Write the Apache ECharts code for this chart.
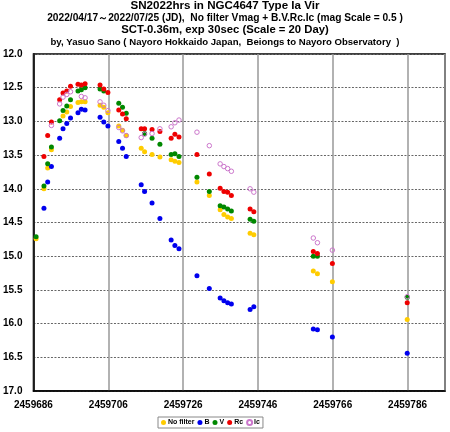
<!DOCTYPE html>
<html>
<head>
<meta charset="utf-8">
<script src="https://cdn.jsdelivr.net/npm/echarts@6/dist/echarts.min.js"></script>
<style>
html,body{margin:0;padding:0;background:#fff;}
#chart{width:450px;height:432px;}
</style>
</head>
<body>
<div id="chart"></div>
<script>
// ---- data (JD, magnitude) ----
const BASE_JD = 2459686;
const xTickStep = 20;

const noFilterJD = [2459686.7,2459688.8,2459689.8,2459690.8,2459693.9,2459694.9,2459695.9,2459697.9,2459698.8,2459699.8,2459703.8,2459704.8,2459705.9,2459708.8,2459709.8,2459710.8,2459714.8,2459715.7,2459717.7,2459719.8,2459722.8,2459723.8,2459724.9,2459729.7,2459733.0,2459735.9,2459736.9,2459737.9,2459738.9,2459743.9,2459744.9,2459760.8,2459761.9,2459765.9,2459785.9];
const noFilterMag = [14.74,14.00,13.69,13.42,12.92,12.86,12.78,12.72,12.71,12.71,12.76,12.79,12.87,13.07,13.13,13.21,13.40,13.45,13.49,13.53,13.57,13.59,13.61,13.90,14.10,14.31,14.38,14.42,14.44,14.66,14.68,15.22,15.26,15.38,15.94];

const bJD = [2459688.8,2459689.8,2459690.8,2459693.0,2459693.9,2459694.9,2459695.9,2459697.9,2459698.8,2459699.8,2459703.8,2459704.8,2459705.9,2459708.8,2459709.8,2459710.8,2459714.8,2459715.7,2459717.7,2459719.8,2459722.8,2459723.8,2459724.9,2459729.7,2459733.0,2459735.9,2459736.9,2459737.9,2459738.9,2459743.9,2459744.9,2459760.8,2459761.9,2459765.9,2459785.9];
const bMag = [14.29,13.90,13.67,13.25,13.11,13.03,12.95,12.87,12.82,12.83,12.94,13.01,13.07,13.30,13.40,13.52,13.94,14.04,14.21,14.44,14.76,14.84,14.89,15.29,15.48,15.62,15.66,15.69,15.71,15.79,15.75,16.08,16.09,16.20,16.44];

const vJD = [2459686.7,2459688.8,2459689.8,2459690.8,2459693.0,2459693.9,2459694.9,2459695.9,2459697.9,2459698.8,2459699.8,2459703.8,2459704.8,2459708.8,2459709.8,2459710.8,2459715.7,2459717.7,2459719.8,2459722.8,2459723.8,2459724.9,2459729.7,2459733.0,2459735.9,2459736.9,2459737.9,2459738.9,2459743.9,2459744.9,2459760.8,2459761.9,2459785.9];
const vMag = [14.71,13.96,13.63,13.38,12.99,12.84,12.77,12.68,12.55,12.53,12.50,12.52,12.55,12.73,12.79,12.88,13.18,13.25,13.34,13.49,13.48,13.52,13.83,14.04,14.25,14.27,14.30,14.33,14.45,14.48,15.00,15.00,15.61];

const rcJD = [2459688.8,2459689.8,2459690.8,2459693.0,2459693.9,2459694.9,2459695.9,2459697.9,2459698.8,2459699.8,2459703.8,2459704.8,2459705.9,2459708.8,2459709.8,2459710.8,2459714.8,2459715.7,2459717.7,2459719.8,2459722.8,2459723.8,2459724.9,2459729.7,2459733.0,2459735.9,2459736.9,2459737.9,2459738.9,2459743.9,2459744.9,2459760.8,2459761.9,2459765.9,2459785.9];
const rcMag = [13.52,13.21,13.01,12.68,12.58,12.55,12.48,12.45,12.46,12.44,12.46,12.52,12.57,12.83,12.89,12.96,13.11,13.11,13.12,13.15,13.25,13.19,13.23,13.49,13.78,13.99,14.04,14.05,14.10,14.30,14.34,14.93,14.96,15.11,15.69];

const icJD = [2459690.8,2459693.0,2459693.9,2459694.9,2459695.9,2459698.8,2459699.8,2459703.8,2459704.8,2459705.9,2459708.8,2459709.8,2459710.8,2459714.8,2459715.7,2459717.7,2459719.8,2459722.8,2459723.8,2459724.9,2459729.7,2459733.0,2459735.9,2459736.9,2459737.9,2459738.9,2459743.9,2459744.9,2459760.8,2459761.9,2459765.9,2459785.9];
const icMag = [13.06,12.74,12.64,12.60,12.56,12.63,12.65,12.71,12.76,12.84,13.09,13.14,13.21,13.24,13.19,13.18,13.11,13.08,13.02,12.98,13.16,13.36,13.63,13.67,13.70,13.74,14.00,14.05,14.73,14.80,14.91,15.60];

const titleLines = [
  'SN2022hrs in NGC4647 Type Ia Vir',
  '2022/04/17\uFF5E2022/07/25 (JD),  No filter Vmag + B.V.Rc.Ic (mag Scale = 0.5 )',
  'SCT-0.36m, exp 30sec (Scale = 20 Day)',
  'by, Yasuo Sano ( Nayoro Hokkaido Japan,  Beiongs to Nayoro Observatory  )'
];
const seriesNames = ['No filter', 'B', 'V', 'Rc', 'Ic'];

function pairs(jd, mag) { return jd.map((d, i) => [d - BASE_JD, mag[i]]); }

const FONT = 'Liberation Sans';
const titleSizes = [11.6, 10.2, 11.3, 9.6];
const titleTops = [0, 11.8, 24, 36.6];

const chart = echarts.init(document.getElementById('chart'), null, {renderer: 'canvas'});
const option = {
  animation: false,
  backgroundColor: '#fff',
  title: titleLines.map((t, i) => ({
    text: t, left: 'center', top: titleTops[i], padding: 0,
    textStyle: {fontFamily: FONT, fontWeight: 'bold', fontSize: titleSizes[i], color: '#000', lineHeight: 12}
  })),
  legend: {
    left: 158, top: 417, padding: [2, 3], itemGap: 3, itemWidth: 5, itemHeight: 5,
    borderColor: '#888', borderWidth: 1,
    textStyle: {fontFamily: FONT, fontWeight: 'bold', fontSize: 7, color: '#000', padding: [0, 0, 0, -3]},
    data: seriesNames
  },
  grid: {left: 32, right: 5, top: 54, bottom: 41, show: true, borderColor: '#000', borderWidth: 1.5, backgroundColor: '#fff'},
  xAxis: {
    type: 'value', min: 0, max: 110, interval: xTickStep,
    axisLine: {show: true, lineStyle: {color: '#000', width: 1.5}},
    axisTick: {show: false},
    splitLine: {show: true, lineStyle: {color: '#999', width: 1.5, type: 'solid'}},
    axisLabel: {formatter: v => String(BASE_JD + v), fontFamily: FONT, fontWeight: 'bold', fontSize: 10, color: '#000', margin: 9}
  },
  yAxis: {
    type: 'value', inverse: true, min: 12, max: 17, interval: 0.5,
    axisLine: {show: true, lineStyle: {color: '#000', width: 1.5}},
    axisTick: {show: false},
    splitLine: {show: true, lineStyle: {color: '#666', width: 1, type: [2, 1.5]}},
    axisLabel: {formatter: v => v.toFixed(1), fontFamily: FONT, fontWeight: 'bold', fontSize: 10, color: '#000', margin: 11}
  },
  series: [
    {name: 'No filter', type: 'scatter', symbol: 'circle', symbolSize: 5, itemStyle: {color: '#ffcc00', opacity: 1}, data: pairs(noFilterJD, noFilterMag)},
    {name: 'B', type: 'scatter', symbol: 'circle', symbolSize: 5, itemStyle: {color: '#0000ee', opacity: 1}, data: pairs(bJD, bMag)},
    {name: 'V', type: 'scatter', symbol: 'circle', symbolSize: 5, itemStyle: {color: '#008800', opacity: 1}, data: pairs(vJD, vMag)},
    {name: 'Rc', type: 'scatter', symbol: 'circle', symbolSize: 5, itemStyle: {color: '#ee0000', opacity: 1}, data: pairs(rcJD, rcMag)},
    {name: 'Ic', type: 'scatter', symbol: 'circle', symbolSize: 4.5, itemStyle: {color: 'rgba(255,255,255,0)', borderColor: '#cc77cc', borderWidth: 1, opacity: 1}, data: pairs(icJD, icMag)}
  ]
};
chart.setOption(option);
</script>
</body>
</html>
